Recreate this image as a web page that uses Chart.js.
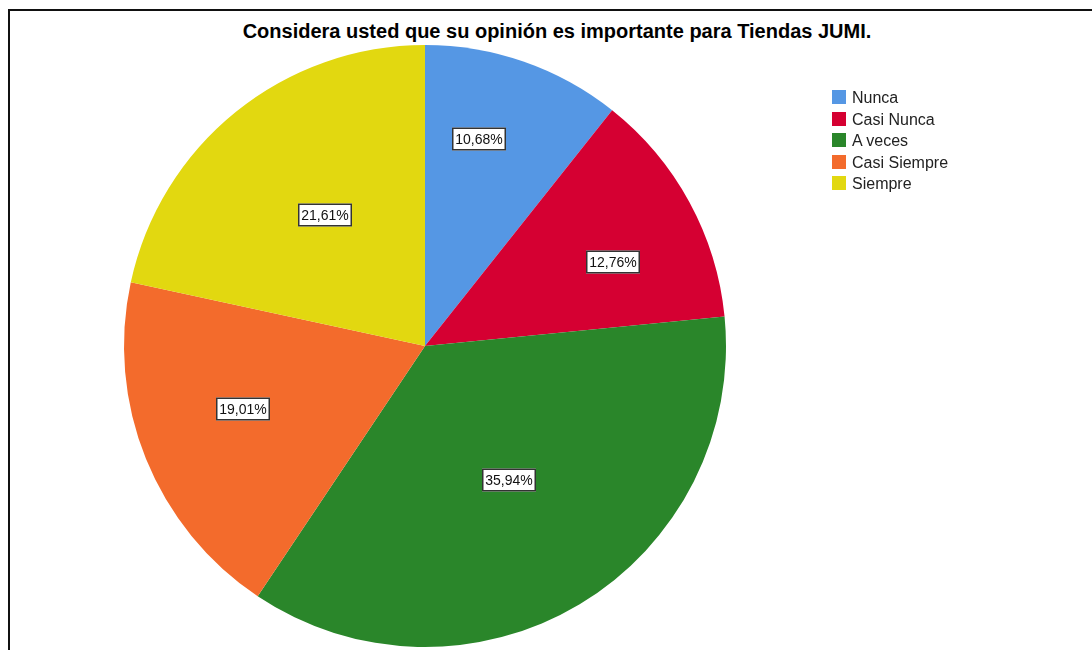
<!DOCTYPE html>
<html>
<head>
<meta charset="utf-8">
<script src="https://cdn.jsdelivr.net/npm/chart.js@4.4.1/dist/chart.umd.min.js"></script>
<style>
  html, body { margin: 0; padding: 0; background: #fff; }
  #wrap { position: relative; width: 1092px; height: 650px; overflow: hidden; font-family: "Liberation Sans", Arial, sans-serif; }
  #frame { position: absolute; left: 8px; top: 9px; width: 1200px; height: 800px; border-top: 2px solid #111; border-left: 2px solid #111; }
  #title { position: absolute; left: 0; top: 20px; width: 1114px; text-align: center; font-weight: bold; font-size: 20px; color: #000; }
  #legend { position: absolute; left: 832px; top: 87px; font-size: 16px; color: #222; }
  #legend div { height: 21.5px; line-height: 21.5px; white-space: nowrap; }
  #legend span { display: inline-block; width: 14px; height: 14px; margin-right: 6px; vertical-align: -1px; }
  canvas { position: absolute; left: 0; top: 0; }
</style>
</head>
<body>
<div id="wrap">
  <div id="frame"></div>
  <div id="title">Considera usted que su opinión es importante para Tiendas JUMI.</div>
  <canvas id="pieChart" width="1092" height="650"></canvas>
  <div id="legend"></div>
</div>
<script>
const categories = ['Nunca', 'Casi Nunca', 'A veces', 'Casi Siempre', 'Siempre'];
const percentages = [10.68, 12.76, 35.94, 19.01, 21.61];
const sliceColors = ['#5597e4', '#d50032', '#2a862a', '#f36b2c', '#e2d810'];

// label box placement: how far along the slice (0..1) and how deep (fraction of radius)
const labelAlong = [0.38, 0.6, 0.49, 0.54, 0.52];
const labelDepth = [0.709, 0.684, 0.526, 0.639, 0.548];

const legendBox = document.getElementById('legend');
categories.forEach((name, i) => {
  const row = document.createElement('div');
  row.innerHTML = `<span style="background:${sliceColors[i]}"></span>${name}`;
  legendBox.appendChild(row);
});

const boxLabels = {
  id: 'boxLabels',
  afterDatasetsDraw(chart) {
    const ctx = chart.ctx;
    const meta = chart.getDatasetMeta(0);
    const total = percentages.reduce((a, b) => a + b, 0);
    ctx.save();
    ctx.font = '14px "Liberation Sans", Arial, sans-serif';
    ctx.textAlign = 'center';
    ctx.textBaseline = 'middle';
    meta.data.forEach((arc, i) => {
      const p = arc.getProps(['x', 'y', 'startAngle', 'endAngle', 'outerRadius'], true);
      const ang = p.startAngle + (p.endAngle - p.startAngle) * labelAlong[i];
      const r = p.outerRadius * labelDepth[i];
      const x = Math.round(p.x + Math.cos(ang) * r);
      const y = Math.round(p.y + Math.sin(ang) * r);
      const txt = (percentages[i] / total * 100).toFixed(2).replace('.', ',') + '%';
      const w = Math.round(ctx.measureText(txt).width) + 7;
      const h = 23;
      ctx.fillStyle = '#fff';
      ctx.fillRect(x - w / 2, y - h / 2, w, h);
      ctx.strokeStyle = '#333';
      ctx.lineWidth = 1.5;
      ctx.strokeRect(x - w / 2 + 0.75, y - h / 2 + 0.75, w - 1.5, h - 1.5);
      ctx.fillStyle = '#111';
      ctx.fillText(txt, x, y + 1);
    });
    ctx.restore();
  }
};

new Chart(document.getElementById('pieChart').getContext('2d'), {
  type: 'pie',
  data: {
    labels: categories,
    datasets: [{
      data: percentages,
      backgroundColor: sliceColors,
      borderWidth: 0
    }]
  },
  options: {
    responsive: false,
    animation: false,
    layout: { padding: { left: 124, top: 45, right: 366, bottom: 3 } },
    plugins: {
      legend: { display: false },
      title: { display: false },
      tooltip: { enabled: false }
    }
  },
  plugins: [boxLabels]
});
</script>
</body>
</html>
